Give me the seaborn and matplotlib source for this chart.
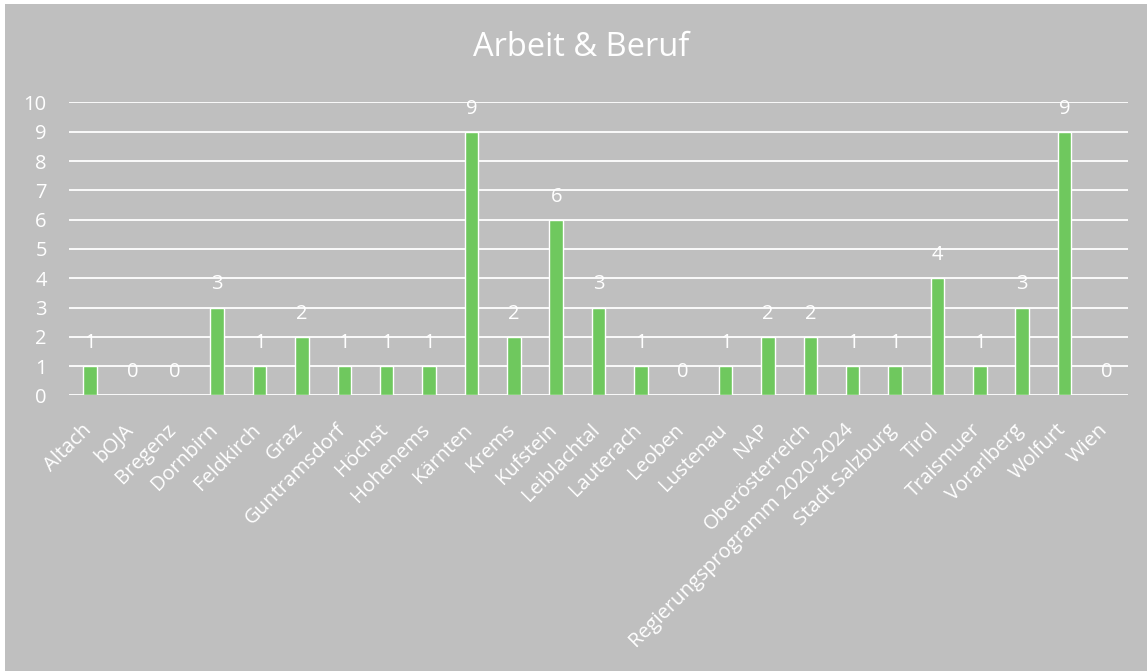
import matplotlib
matplotlib.use("Agg")
import matplotlib.pyplot as plt
import matplotlib.patches as mpatches
import matplotlib.transforms as mtransforms
import seaborn as sns
import pandas as pd

categories = ["Altach", "bOJA", "Bregenz", "Dornbirn", "Feldkirch", "Graz",
              "Guntramsdorf", "Höchst", "Hohenems", "Kärnten", "Krems",
              "Kufstein", "Leiblachtal", "Lauterach", "Leoben", "Lustenau",
              "NAP", "Oberösterreich", "Regierungsprogramm 2020-2024",
              "Stadt Salzburg", "Tirol", "Traismuer", "Vorarlberg",
              "Wolfurt", "Wien"]
values = [1, 0, 0, 3, 1, 2, 1, 1, 1, 9, 2, 6, 3, 1, 0, 1, 2, 2, 1, 1, 4, 1, 3, 9, 0]
yticks = list(range(0, 11))
title = "Arbeit & Beruf"

sns.set_theme(style="white")
plt.rcParams["font.family"] = ["Open Sans", "DejaVu Sans"]

BG = "#BFBFBF"
BAR = "#6FC85E"
FS = 14.5

df = pd.DataFrame({"cat": categories, "val": values})

fig = plt.figure(figsize=(11.47, 6.71), dpi=100)
fig.patch.set_facecolor("white")
fig.patches.append(mpatches.Rectangle((5 / 1147, 0), 1 - 5 / 1147, 1 - 4 / 671,
                                      transform=fig.transFigure, facecolor=BG,
                                      edgecolor="none", zorder=-10))
ax = fig.add_axes([69 / 1147, 1 - 395.5 / 671, (1128 - 69) / 1147, (395.5 - 102.5) / 671])
ax.set_zorder(5)
ax.set_facecolor(BG)
ax.patch.set_alpha(0)

sns.barplot(data=df, x="cat", y="val", color=BAR, width=0.32, ax=ax,
            saturation=1, zorder=3)

ax.set_ylim(0, 10)
ax.set_xlim(-0.5, len(categories) - 0.5)
ax.set_yticks(yticks)
ax.yaxis.grid(True, color="white", linewidth=1.3, zorder=0)
ax.set_axisbelow(True)
for s in ax.spines.values():
    s.set_visible(False)
ax.set_xlabel("")
ax.set_ylabel("")
ax.set_xticks(range(len(categories)))
ax.tick_params(axis="both", length=0, colors="white", labelsize=FS)
ax.tick_params(axis="y", pad=16)
ax.tick_params(axis="x", pad=14)
ax.set_xticklabels(categories, rotation=45, ha="right", va="top",
                   rotation_mode="anchor")
shift = mtransforms.ScaledTranslation(-9 / 100, -5 / 100, fig.dpi_scale_trans)
for lab in ax.get_xticklabels():
    lab.set_transform(lab.get_transform() + shift)
for lab in ax.get_yticklabels():
    lab.set_horizontalalignment("right")

for c in ax.containers:
    ax.bar_label(c, labels=[str(v) for v in values], padding=9.5, color="white",
                 fontsize=FS)

fig.text(581 / 1147, 1 - 47 / 671, title, ha="center", va="center", color="white",
         fontsize=23.5)

fig.savefig("out.png", dpi=100, facecolor=fig.get_facecolor())
